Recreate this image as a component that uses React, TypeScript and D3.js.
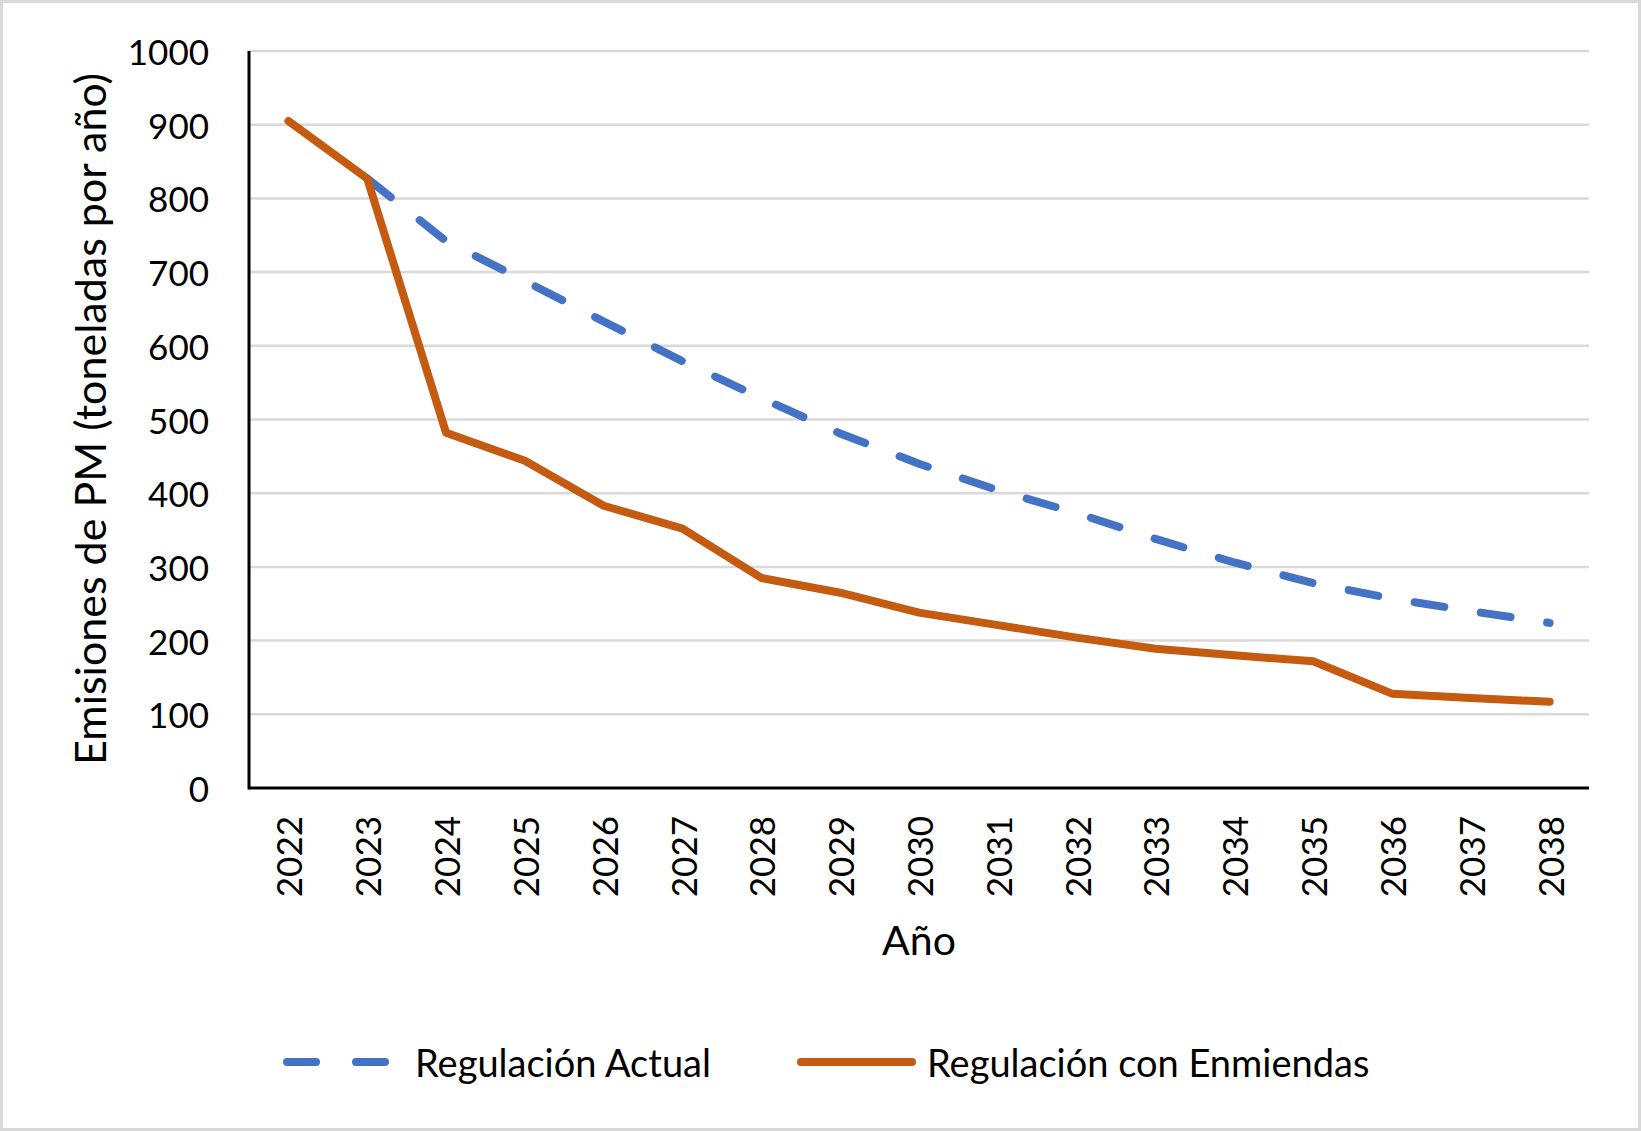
import React, { useRef, useEffect } from 'react';
import * as d3 from 'd3';

const years: string[] = [
    '2022', '2023', '2024', '2025', '2026', '2027', '2028', '2029', '2030',
    '2031', '2032', '2033', '2034', '2035', '2036', '2037', '2038',
];

// Regulación Actual (starts in 2023)
const actual: (number | null)[] = [
    null, 827, 742, 688, 633, 579, 529, 481, 440, 404, 373, 338, 306, 278, 257, 240, 224,
];

// Regulación con Enmiendas
const enmiendas: number[] = [
    905, 827, 482, 444, 383, 352, 285, 265, 238, 221, 204, 189, 180, 172, 128, 122, 117,
];

const yTicks: number[] = [0, 100, 200, 300, 400, 500, 600, 700, 800, 900, 1000];

const W = 1641;
const H = 1131;
const FONT = 'Lato, "Open Sans", sans-serif';

const App: React.FC = () => {
    const svgRef = useRef<SVGSVGElement | null>(null);

    useEffect(() => {
        const svg = d3.select(svgRef.current);
        svg.selectAll('*').remove();

        // outer border
        svg.append('rect')
            .attr('x', 1.5)
            .attr('y', 1.5)
            .attr('width', W - 3)
            .attr('height', H - 3)
            .attr('fill', '#fff')
            .attr('stroke', '#d9d9d9')
            .attr('stroke-width', 3);

        const x = d3.scaleBand<string>()
            .domain(years)
            .range([249, 1589]);

        const y = d3.scaleLinear()
            .domain([0, 1000])
            .range([788, 51]);

        const cx = (yr: string) => x(yr)! + x.bandwidth() / 2;

        // gridlines
        svg.append('g')
            .selectAll('line')
            .data(yTicks.filter(t => t > 0))
            .enter()
            .append('line')
            .attr('x1', 249)
            .attr('x2', 1589)
            .attr('y1', d => y(d))
            .attr('y2', d => y(d))
            .attr('stroke', '#d9d9d9')
            .attr('stroke-width', 2.5);

        // y tick labels
        svg.append('g')
            .selectAll('text')
            .data(yTicks)
            .enter()
            .append('text')
            .attr('x', 209)
            .attr('y', d => y(d))
            .attr('text-anchor', 'end')
            .attr('dominant-baseline', 'central')
            .style('font-family', FONT)
            .style('font-size', '35px')
            .text(d => d);

        // x tick labels (rotated)
        svg.append('g')
            .selectAll('text')
            .data(years)
            .enter()
            .append('text')
            .attr('transform', d => `translate(${cx(d)}, 816) rotate(-90)`)
            .attr('text-anchor', 'end')
            .attr('dominant-baseline', 'central')
            .style('font-family', FONT)
            .style('font-size', '35px')
            .text(d => d);

        // axes
        svg.append('line')
            .attr('x1', 249).attr('x2', 249)
            .attr('y1', y(1000)).attr('y2', y(0) + 1.5)
            .attr('stroke', '#000').attr('stroke-width', 3);
        svg.append('line')
            .attr('x1', 249).attr('x2', 1589)
            .attr('y1', y(0)).attr('y2', y(0))
            .attr('stroke', '#000').attr('stroke-width', 3);

        // lines
        const line = d3.line<number | null>()
            .defined(d => d !== null)
            .x((_, i) => cx(years[i]))
            .y(d => y(d as number));

        svg.append('path')
            .datum(actual)
            .attr('d', line)
            .attr('fill', 'none')
            .attr('stroke', '#4472c4')
            .attr('stroke-width', 8)
            .attr('stroke-linecap', 'round')
            .attr('stroke-dasharray', '30 37');

        svg.append('path')
            .datum(enmiendas)
            .attr('d', line)
            .attr('fill', 'none')
            .attr('stroke', '#c55a11')
            .attr('stroke-width', 8)
            .attr('stroke-linejoin', 'round')
            .attr('stroke-linecap', 'round');

        // axis titles
        svg.append('text')
            .attr('x', 919)
            .attr('y', 955)
            .attr('text-anchor', 'middle')
            .style('font-family', FONT)
            .style('font-size', '41px')
            .text('Año');

        svg.append('text')
            .attr('transform', 'translate(89, 419) rotate(-90)')
            .attr('text-anchor', 'middle')
            .attr('dominant-baseline', 'central')
            .style('font-family', FONT)
            .style('font-size', '43px')
            .text('Emisiones de PM (toneladas por año)');

        // legend
        svg.append('line')
            .attr('x1', 287).attr('x2', 385)
            .attr('y1', 1062).attr('y2', 1062)
            .attr('stroke', '#4472c4')
            .attr('stroke-width', 8)
            .attr('stroke-linecap', 'round')
            .attr('stroke-dasharray', '29 40');
        svg.append('text')
            .attr('x', 415)
            .attr('y', 1062)
            .attr('dominant-baseline', 'central')
            .style('font-family', FONT)
            .style('font-size', '38px')
            .text('Regulación Actual');

        svg.append('line')
            .attr('x1', 801).attr('x2', 912)
            .attr('y1', 1062).attr('y2', 1062)
            .attr('stroke', '#c55a11')
            .attr('stroke-width', 8)
            .attr('stroke-linecap', 'round');
        svg.append('text')
            .attr('x', 927)
            .attr('y', 1062)
            .attr('dominant-baseline', 'central')
            .style('font-family', FONT)
            .style('font-size', '38px')
            .text('Regulación con Enmiendas');
    }, []);

    return (
        <svg
            ref={svgRef}
            width={W}
            height={H}
            style={{ position: 'absolute', left: 0, top: 0 }}
        ></svg>
    );
};

export default App;
